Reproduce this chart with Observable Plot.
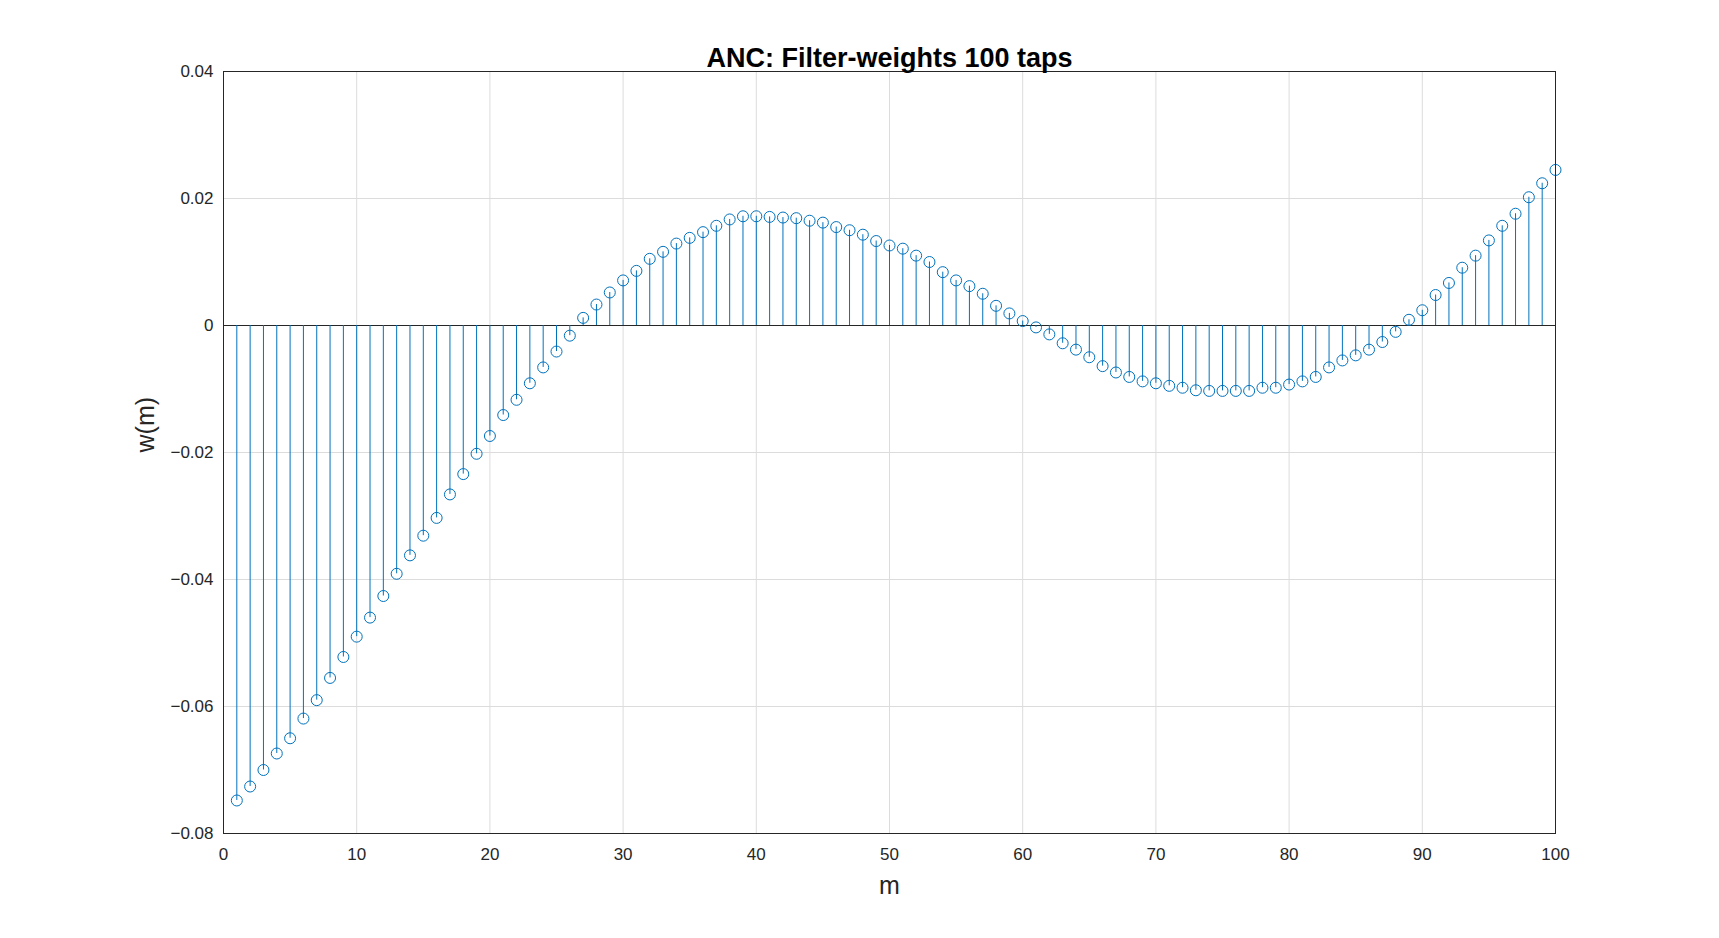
<!DOCTYPE html>
<html>
<head>
<meta charset="utf-8">
<script src="https://cdn.jsdelivr.net/npm/d3@7"></script>
<script src="https://cdn.jsdelivr.net/npm/@observablehq/plot@0.6"></script>
<style>
  body { margin: 0; background: #fff; }
</style>
</head>
<body>
<div id="chart"></div>
<script>
// filter weights w(m), m = 1..100
const taps = d3.range(1, 101);
const weights = [
  -0.0748, -0.0726, -0.0700, -0.0674, -0.0650, -0.0619, -0.0590, -0.0555, -0.0522, -0.0490,
  -0.0460, -0.0426, -0.0391, -0.0362, -0.0331, -0.0303, -0.0266, -0.0234, -0.0202, -0.0174,
  -0.0141, -0.0117, -0.0091, -0.0066, -0.0041, -0.0016, 0.0012, 0.0033, 0.0052, 0.0071,
  0.0086, 0.0105, 0.0116, 0.0129, 0.0138, 0.0147, 0.0157, 0.0167, 0.0172, 0.0172,
  0.0171, 0.0170, 0.0169, 0.0165, 0.0162, 0.0155, 0.0150, 0.0143, 0.0133, 0.0126,
  0.0121, 0.0110, 0.0100, 0.0084, 0.0071, 0.0062, 0.0050, 0.0031, 0.0019, 0.0007,
  -0.0003, -0.0014, -0.0028, -0.0038, -0.0050, -0.0064, -0.0074, -0.0081, -0.0088, -0.0091,
  -0.0095, -0.0098, -0.0102, -0.0103, -0.0103, -0.0103, -0.0103, -0.0098, -0.0098, -0.0093,
  -0.0088, -0.0081, -0.0066, -0.0055, -0.0047, -0.0038, -0.0026, -0.0010, 0.0009, 0.0024,
  0.0048, 0.0067, 0.0091, 0.0110, 0.0134, 0.0157, 0.0176, 0.0202, 0.0224, 0.0245
];
const xTicks = d3.range(0, 101, 10);
const yTicks = [-0.08, -0.06, -0.04, -0.02, 0, 0.02, 0.04];

const data = taps.map((m, i) => ({m, w: weights[i]}));
const blue = "#0072BD";

const chart = Plot.plot({
  width: 1719,
  height: 938,
  marginLeft: 223,
  marginRight: 164,
  marginTop: 71,
  marginBottom: 105,
  style: {fontFamily: "Liberation Sans, Arial, sans-serif", fontSize: "17px", color: "#262626", background: "#fff"},
  x: {domain: [0, 100], ticks: xTicks, tickSize: 0, tickPadding: 14, label: null},
  y: {domain: [-0.08, 0.04], ticks: yTicks, tickSize: 0, tickPadding: 10, label: null,
      tickFormat: d => d === 0 ? "0" : d3.format(".2f")(d)},
  marks: [
    Plot.gridX(xTicks, {stroke: "#dcdcdc", strokeOpacity: 1}),
    Plot.gridY(yTicks, {stroke: "#dcdcdc", strokeOpacity: 1}),
    Plot.ruleY([0], {stroke: "#262626", strokeWidth: 1}),
    Plot.ruleX(data, {x: "m", y1: 0, y2: "w", stroke: blue, strokeWidth: 1}),
    Plot.dot(data, {x: "m", y: "w", r: 5.5, stroke: blue, strokeWidth: 1, fill: "none"}),
    Plot.frame({stroke: "#262626"}),
    Plot.text(["ANC: Filter-weights 100 taps"], {frameAnchor: "top", dy: -24, fontSize: 27, fontWeight: "bold", fill: "#000"}),
    Plot.text(["m"], {frameAnchor: "bottom", dy: 60, fontSize: 25, fill: "#262626"}),
    Plot.text(["w(m)"], {frameAnchor: "left", dx: -78, rotate: -90, fontSize: 25, fill: "#262626"})
  ]
});
d3.select("#chart").append(() => chart);
</script>
</body>
</html>
